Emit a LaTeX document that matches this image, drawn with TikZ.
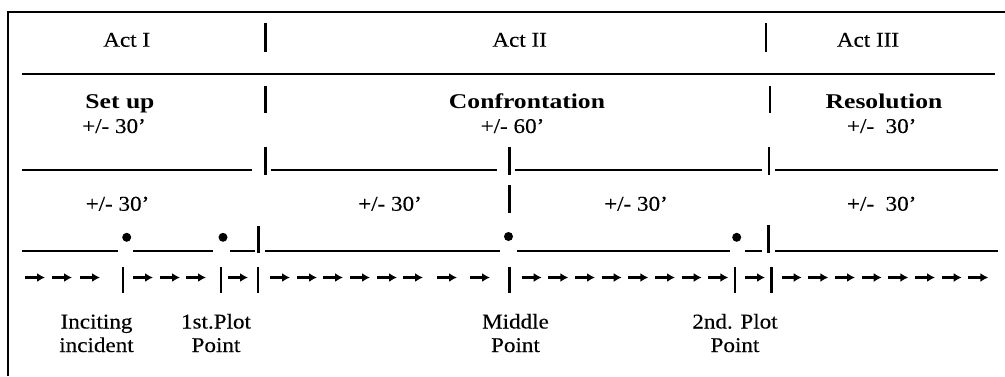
\documentclass[tikz,border=0pt]{standalone}
\usepackage{fontspec}
\setmainfont{Liberation Serif}[FakeStretch=1.1,FakeBold=0.25,BoldFeatures={FakeStretch=1.22,FakeBold=0}]
\usetikzlibrary{arrows.meta}
\newcommand{\fs}{\fontsize{21}{23.5}\selectfont}
\begin{document}
\begin{tikzpicture}[x=1pt,y=-1pt,
  txt/.style={anchor=base,inner sep=0pt,font=\fs},
  btxt/.style={anchor=base,inner sep=0pt,font=\fs\bfseries},
  lbl/.style={anchor=base,inner sep=0pt,font=\fs,align=center},
  bar/.style={line width=2.7pt},
  uline/.style={line width=1.2pt},
  frame/.style={line width=2pt},
  dotnode/.style={circle,fill=black,inner sep=0pt,minimum size=9pt},
  arr/.style={line width=2.3pt,-{Latex[length=8pt,width=9pt]}}]
\useasboundingbox (0,0) rectangle (1005,376);
% frame
\draw[frame] (8,376) -- (8,12) -- (1005,12);
% row 1
\node[txt] (act1) at (126.7,46.7) {Act I};
\node[txt] (act2) at (519.7,46.7) {Act II};
\node[txt] (act3) at (868,46.7) {Act III};
\draw[bar] (265.7,23) -- (265.7,52);
\draw[bar] (766,23) -- (766,52);
\draw[uline] (22,74) -- (995,74);
% row 2
\node[btxt] (setup) at (120,108) {Set up};
\node[btxt] (confr) at (527,108) {Confrontation};
\node[btxt] (resol) at (884,108) {Resolution};
\node[txt] (d1) at (114,133) {+/- 30’};
\node[txt] (d2) at (512.5,133) {+/- 60’};
\node[txt] (d3) at (881.7,133) {+/-\ \ 30’};
\draw[bar] (265.7,86) -- (265.7,113);
\draw[bar] (770,86) -- (770,113);
% row 3
\draw[uline] (22,170) -- (252,170);
\draw[bar] (265.7,147) -- (265.7,175);
\draw[uline] (271,170) -- (496.7,170);
\draw[bar] (509.3,147) -- (509.3,175);
\draw[uline] (515,170) -- (762,170);
\draw[bar] (769,147) -- (769,175);
\draw[uline] (775,170) -- (998,170);
% row 4
\node[txt] (e1) at (117.5,210.7) {+/- 30’};
\node[txt] (e2) at (390,210.7) {+/- 30’};
\node[txt] (e3) at (636,210.7) {+/- 30’};
\node[txt] (e4) at (881.7,210.7) {+/-\ \ 30’};
\draw[bar] (509.3,185) -- (509.3,213);
% row 5
\draw[uline] (22,251) -- (118,251);
\node[dotnode] (p1) at (126.7,237.3) {};
\draw[uline] (133,251) -- (213,251);
\node[dotnode] (p2) at (223,237.3) {};
\draw[uline] (230,251) -- (255,251);
\draw[bar] (258.3,226) -- (258.3,253);
\draw[uline] (265,251) -- (500,251);
\node[dotnode] (p3) at (508.5,236.5) {};
\draw[uline] (516.7,251) -- (730,251);
\node[dotnode] (p4) at (736.7,237.3) {};
\draw[uline] (745,251) -- (762,251);
\draw[bar] (768.5,225) -- (768.5,253);
\draw[uline] (775,251) -- (998,251);
% row 6
\foreach \bx in {123,221,258,509.3,735,771.5}
  \draw[bar] (\bx,267) -- (\bx,293);
\foreach \ax in {35,62,90,143,170,196,238,280,307,333,360,387,413,447,480,
  531.7,558.3,585,611.7,638.3,665,691.7,718.3,755,
  791.7,818.3,845,871.7,898.3,925,951.7,978.3}
  \draw[arr] (\ax-10,277.5) -- (\ax+10,277.5);
% labels
\node[lbl] (inc) at (96.5,352) {Inciting\\incident};
\node[lbl] (pp1) at (216,352) {1st.Plot\\Point};
\node[lbl] (mid) at (515.5,352) {Middle\\Point};
\node[lbl] (pp2) at (735,352) {2nd. Plot\\Point};
\end{tikzpicture}
\end{document}
